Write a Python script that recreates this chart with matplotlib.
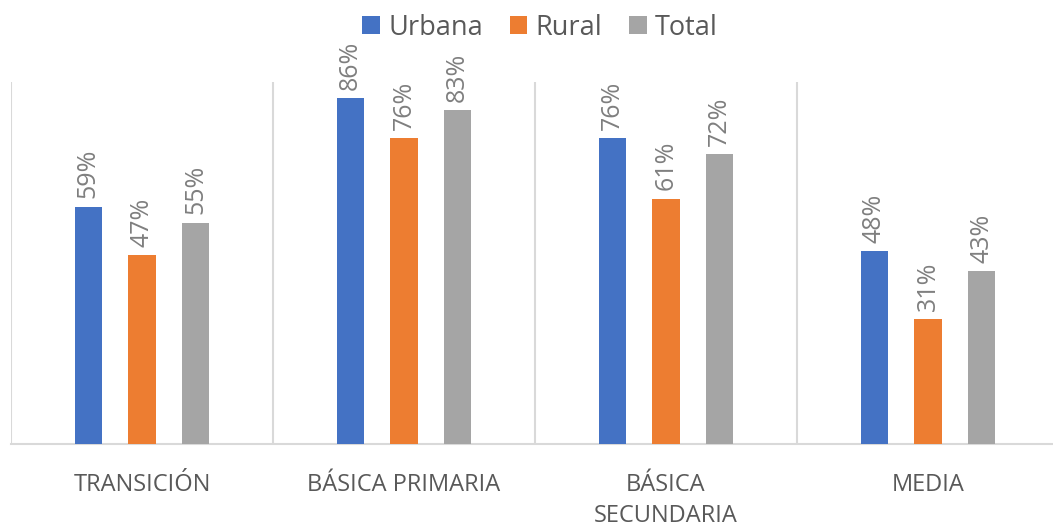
import matplotlib
matplotlib.use("Agg")
import matplotlib.pyplot as plt
import numpy as np

categories = ["TRANSICIÓN", "BÁSICA PRIMARIA", "BÁSICA\nSECUNDARIA", "MEDIA"]
series_names = ["Urbana", "Rural", "Total"]
urbana = [0.59, 0.86, 0.76, 0.48]
rural = [0.47, 0.76, 0.61, 0.31]
total = [0.55, 0.83, 0.72, 0.43]
colors = ["#4472C4", "#ED7D31", "#A5A5A5"]

plt.rcParams['font.family'] = ['Open Sans', 'DejaVu Sans']

W, H = 1053, 528
fig = plt.figure(figsize=(W / 100, H / 100), dpi=100)
ax = fig.add_axes([11 / W, (H - 444) / H, 1048 / W, (444 - 82) / H])

x = np.arange(len(categories))
offsets = [-0.205, 0.0, 0.205]
width = 0.105
for vals, off, col, name in zip([urbana, rural, total], offsets, colors, series_names):
    bars = ax.bar(x + off, vals, width=width, color=col, label=name, zorder=3)
    for b, v in zip(bars, vals):
        ax.annotate(f"{int(round(v * 100))}%", (b.get_x() + b.get_width() / 2, v),
                    xytext=(0, 6), textcoords="offset points", rotation=90,
                    ha="center", va="bottom", fontsize=18, color="#7F7F7F")

ax.set_xlim(-0.5, len(categories) - 0.5)
ax.set_ylim(0, 0.9)
ax.set_yticks([])
for s in ["top", "right", "left"]:
    ax.spines[s].set_visible(False)
ax.spines["bottom"].set_color("#D9D9D9")
ax.spines["bottom"].set_linewidth(1.5)
for b in np.arange(-0.5, len(categories), 1.0):
    ax.axvline(b, color="#D9D9D9", lw=1.5, zorder=1)
ax.set_xticks(x)
ax.set_xticklabels(categories, fontsize=17, color="#595959", linespacing=1.4)
ax.tick_params(axis="x", length=0, pad=21)

leg = fig.legend(loc="upper center", bbox_to_anchor=(0.513, 1.02), ncol=3, frameon=False,
                 fontsize=19.5, handlelength=0.65, handleheight=0.65, handletextpad=0.3,
                 columnspacing=1.0, labelcolor="#595959")

fig.savefig("out.png", dpi=100)
